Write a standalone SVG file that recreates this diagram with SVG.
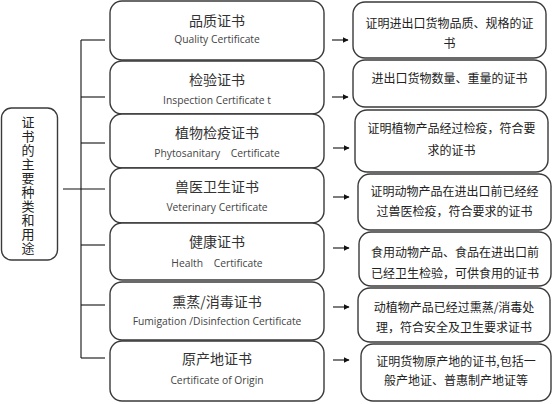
<svg xmlns="http://www.w3.org/2000/svg" width="554" height="404" viewBox="0 0 554 404">
<defs>
<style>
.box{fill:#fff;stroke:#3a3a3a;stroke-width:1.4}
.ln{stroke:#111;stroke-width:1.1;fill:none}
.zh{font-family:"Noto Sans CJK SC","Noto Sans",sans-serif;font-size:14px;fill:#333;text-anchor:middle}
.en{font-family:"Open Sans","Liberation Sans",sans-serif;font-size:10.3px;fill:#444;text-anchor:middle}
.rt{font-family:"Noto Sans CJK SC","Noto Sans",sans-serif;font-size:12px;fill:#222;text-anchor:middle}
.lt{font-family:"Noto Sans CJK SC","Noto Sans",sans-serif;font-size:13px;fill:#222;writing-mode:vertical-rl;letter-spacing:1px}
</style>
<marker id="ah" viewBox="0 0 10 10" refX="9" refY="5" markerWidth="6" markerHeight="6" markerUnits="userSpaceOnUse" orient="auto">
<path d="M0,0 L10,5 L0,10 z" fill="#111"/>
</marker>
</defs>
<rect width="554" height="404" fill="#fff"/>
<g id="connectors">
<line class="ln" x1="63" y1="189" x2="105" y2="189"/>
<line class="ln" x1="81" y1="40" x2="81" y2="358"/>
<line class="ln" x1="81" y1="40" x2="105" y2="40"/>
<line class="ln" x1="81" y1="97" x2="105" y2="97"/>
<line class="ln" x1="81" y1="143" x2="105" y2="143"/>
<line class="ln" x1="81" y1="245" x2="105" y2="245"/>
<line class="ln" x1="81" y1="305" x2="105" y2="305"/>
<line class="ln" x1="81" y1="358" x2="105" y2="358"/>
<line class="ln" x1="332" y1="40" x2="348" y2="40" marker-end="url(#ah)"/>
<line class="ln" x1="332" y1="97" x2="348" y2="97" marker-end="url(#ah)"/>
<line class="ln" x1="333" y1="148" x2="349" y2="148" marker-end="url(#ah)"/>
<line class="ln" x1="333" y1="197" x2="349" y2="197" marker-end="url(#ah)"/>
<line class="ln" x1="333" y1="248" x2="349" y2="248" marker-end="url(#ah)"/>
<line class="ln" x1="333" y1="307" x2="349" y2="307" marker-end="url(#ah)"/>
<line class="ln" x1="333" y1="360" x2="349" y2="360" marker-end="url(#ah)"/>
</g>
<g id="root">
<rect class="box" x="1.5" y="108" width="56" height="152" rx="10"/>
<text class="lt" x="28" y="116">证书的主要种类和用途</text>
</g>
<g id="n1">
<rect class="box" x="110" y="1" width="214" height="59" rx="12"/>
<text class="zh" x="217" y="26">品质证书</text>
<text class="en" x="217" y="43">Quality Certificate</text>
</g>
<g id="n2">
<rect class="box" x="110" y="61" width="214" height="53" rx="12"/>
<text class="zh" x="217" y="85">检验证书</text>
<text class="en" x="217" y="103.5">Inspection Certificate t</text>
</g>
<g id="n3">
<rect class="box" x="110" y="114" width="214" height="54" rx="12"/>
<text class="zh" x="217" y="138">植物检疫证书</text>
<text class="en" x="217" y="156.5" xml:space="preserve">Phytosanitary    Certificate</text>
</g>
<g id="n4">
<rect class="box" x="110" y="168" width="214" height="55" rx="12"/>
<text class="zh" x="217" y="192">兽医卫生证书</text>
<text class="en" x="217" y="210.5">Veterinary Certificate</text>
</g>
<g id="n5">
<rect class="box" x="110" y="223" width="214" height="57" rx="12"/>
<text class="zh" x="217" y="247">健康证书</text>
<text class="en" x="217" y="266.5" xml:space="preserve">Health    Certificate</text>
</g>
<g id="n6">
<rect class="box" x="110" y="282" width="214" height="58" rx="12"/>
<text class="zh" x="217" y="307">熏蒸/消毒证书</text>
<text class="en" x="217" y="324.5">Fumigation /Disinfection Certificate</text>
</g>
<g id="n7">
<rect class="box" x="110" y="341" width="214" height="60" rx="12"/>
<text class="zh" x="217" y="364">原产地证书</text>
<text class="en" x="217" y="383.5">Certificate of Origin</text>
</g>
<g id="r1">
<rect class="box" x="353" y="2" width="193" height="56" rx="12"/>
<text class="rt" x="449.5" y="27.5">证明进出口货物品质、规格的证</text>
<text class="rt" x="449.5" y="47.5">书</text>
</g>
<g id="r2">
<rect class="box" x="353" y="60" width="193" height="47" rx="12"/>
<text class="rt" x="449.5" y="82.5">进出口货物数量、重量的证书</text>
</g>
<g id="r3">
<rect class="box" x="355" y="110" width="193" height="62" rx="12"/>
<text class="rt" x="451.5" y="132.5">证明植物产品经过检疫，符合要</text>
<text class="rt" x="451.5" y="154.5">求的证书</text>
</g>
<g id="r4">
<rect class="box" x="358" y="174" width="193" height="56" rx="12"/>
<text class="rt" x="454.5" y="195.5">证明动物产品在进出口前已经经</text>
<text class="rt" x="454.5" y="215.5">过兽医检疫，符合要求的证书</text>
</g>
<g id="r5">
<rect class="box" x="359" y="232" width="192" height="54" rx="12"/>
<text class="rt" x="455" y="256.5">食用动物产品、食品在进出口前</text>
<text class="rt" x="455" y="277.5">已经卫生检验，可供食用的证书</text>
</g>
<g id="r6">
<rect class="box" x="358" y="288" width="192" height="54" rx="12"/>
<text class="rt" x="454" y="311.5">动植物产品已经过熏蒸/消毒处</text>
<text class="rt" x="454" y="331.5">理，符合安全及卫生要求证书</text>
</g>
<g id="r7">
<rect class="box" x="361" y="344" width="190" height="57" rx="12"/>
<text class="rt" x="456" y="366">证明货物原产地的证书,包括一</text>
<text class="rt" x="456" y="384.5">般产地证、普惠制产地证等</text>
</g>
</svg>
